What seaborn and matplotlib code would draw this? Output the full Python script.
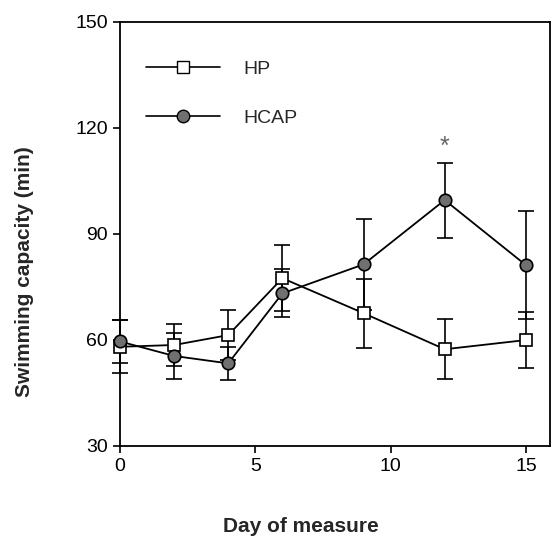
import seaborn as sns
import matplotlib.pyplot as plt
import pandas as pd
from matplotlib.lines import Line2D

# Values
days = [0, 2, 4, 6, 9, 12, 15]
hp_mean = [58.0, 58.5, 61.3, 77.4, 67.5, 57.3, 59.9]
hp_err = [7.5, 6.0, 7.0, 9.4, 9.8, 8.5, 7.9]
hcap_mean = [59.5, 55.4, 53.3, 73.1, 81.3, 99.5, 81.1]
hcap_err = [6.0, 6.5, 4.7, 6.8, 12.9, 10.6, 15.3]
star_day = 12
star_value = 114.5

sns.set_style("ticks")
plt.rcParams["font.family"] = ["Liberation Sans", "DejaVu Sans"]

df = pd.DataFrame({
    "day": days * 2,
    "value": hp_mean + hcap_mean,
    "group": ["HP"] * len(days) + ["HCAP"] * len(days),
})

fig = plt.figure(figsize=(5.53, 5.39), dpi=100)
ax = fig.add_axes([0.217, 0.173, 0.778, 0.787])

# error bars first so the markers sit on top
ax.errorbar(days, hp_mean, yerr=hp_err, fmt="none", ecolor="black",
            elinewidth=1.2, capsize=6, capthick=1.2, zorder=1, clip_on=False)
ax.errorbar(days, hcap_mean, yerr=hcap_err, fmt="none", ecolor="black",
            elinewidth=1.2, capsize=6, capthick=1.2, zorder=1, clip_on=False)

sns.lineplot(
    data=df, x="day", y="value", hue="group", style="group",
    palette={"HP": "black", "HCAP": "black"},
    markers={"HP": "s", "HCAP": "o"}, dashes=False,
    linewidth=1.3, markersize=9, ax=ax, legend=False, zorder=3, clip_on=False,
)
# marker faces: open squares for HP, grey circles for HCAP
ax.lines[-2].set_markerfacecolor("white")
ax.lines[-2].set_markeredgecolor("black")
ax.lines[-1].set_markerfacecolor("#707070")
ax.lines[-1].set_markeredgecolor("black")
for ln in ax.lines[-2:]:
    ln.set_markeredgewidth(1.2)

ax.text(star_day, star_value, "*", ha="center", va="center", fontsize=18, color="#666666")

# legend
handles = [
    Line2D([], [], color="black", lw=1.2, marker="s", markersize=9,
           markerfacecolor="white", markeredgecolor="black"),
    Line2D([], [], color="black", lw=1.2, marker="o", markersize=9,
           markerfacecolor="#707070", markeredgecolor="black"),
]
ax.legend(handles, ["HP", "HCAP"], loc="upper left", frameon=False,
          fontsize=14, handlelength=3.8, handletextpad=1.2, labelspacing=1.6,
          bbox_to_anchor=(0.02, 0.95))

ax.set_xlim(0, 15.9)
ax.set_ylim(30, 150)
ax.set_xticks([0, 5, 10, 15])
ax.set_yticks([30, 60, 90, 120, 150])
ax.tick_params(labelsize=14, length=5, width=1.2, direction="out", colors="black")
for s in ax.spines.values():
    s.set_linewidth(1.3)
    s.set_color("black")

ax.set_xlabel("Day of measure", fontsize=15, fontweight="bold", va="center")
ax.xaxis.set_label_coords(0.42, -0.19)
ax.set_ylabel("Swimming capacity (min)", fontsize=15, fontweight="bold", va="center")
ax.yaxis.set_label_coords(-0.221, 0.41)

plt.savefig("out.png", dpi=100)
